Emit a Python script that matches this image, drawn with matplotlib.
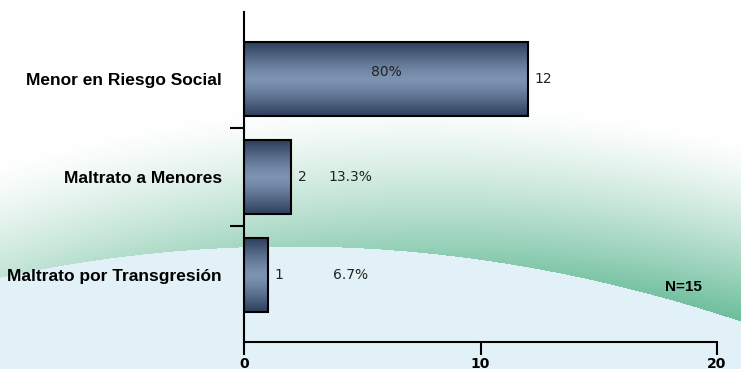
import numpy as np
import matplotlib
matplotlib.use('Agg')
import matplotlib.pyplot as plt

# data
categorias = ['Maltrato por Transgresión', 'Maltrato a Menores', 'Menor en Riesgo Social']
casos = [1, 2, 12]
porcentajes = ['6.7%', '13.3%', '80%']
total_n = 15
x_ticks = [0, 10, 20]

W, H = 741, 369
fig = plt.figure(figsize=(W/100, H/100), dpi=100)

# background: light blue hill with a green glow fading upward
xx, yy = np.meshgrid(np.arange(W), np.arange(H))
edge = 246 + 3.7e-4*(xx - 290)**2  # hill outline (pixel rows)
d = edge - yy
white = np.array([1.0, 1.0, 1.0])
green = np.array([100, 186, 150])/255.
blue = np.array([226, 241, 247])/255.
span = 115 + 65*xx/W
a = np.clip(1 - d/span, 0, 1)**1.3 * (0.4 + 0.55*xx/W)
img = white*(1 - a[..., None]) + green*a[..., None]
img[d < 0] = blue
ax_bg = fig.add_axes([0, 0, 1, 1], zorder=0)
ax_bg.imshow(img, aspect='auto', interpolation='bilinear')
ax_bg.axis('off')

ax = fig.add_axes([244/W, 1-342/H, (717-244)/W, 330/H], zorder=1)
ax.patch.set_alpha(0)
ypos = np.arange(len(categorias))
bars = ax.barh(ypos, casos, height=0.75, color='none', edgecolor='black', linewidth=1.5, zorder=3)
ax.set_xlim(0, 20)
ax.set_ylim(-0.684, 2.684)

# vertical gradient inside each bar
t = np.linspace(0, 1, 100)
g = np.abs(t - 0.5)*2
c_dark = np.array([44, 62, 92])/255.
c_light = np.array([124, 148, 178])/255.
grad = (c_light*(1 - g[:, None]**1.3) + c_dark*g[:, None]**1.3)[:, None, :]
for b in bars:
    x0, y0, w, h = b.get_x(), b.get_y(), b.get_width(), b.get_height()
    ax.imshow(grad, extent=[x0, x0 + w, y0, y0 + h], aspect='auto', zorder=2, interpolation='bilinear')

# labels
for i, b in enumerate(bars):
    yc = b.get_y() + b.get_height()/2
    ax.text(b.get_width() + 0.3, yc, str(casos[i]), va='center', ha='left', fontsize=10, family='DejaVu Sans', color='#222222')
    if casos[i] > 5:
        ax.text(b.get_width()/2, yc + 0.07, porcentajes[i], va='center', ha='center', fontsize=10, family='DejaVu Sans', color='#222222')
    else:
        ax.text(4.5, yc, porcentajes[i], va='center', ha='center', fontsize=10, family='DejaVu Sans', color='#222222')

ax.text(18.6, -0.12, 'N=%d' % total_n, ha='center', va='center', fontsize=11, fontweight='bold', family='Liberation Sans')

ax.set_yticks(ypos)
ax.set_yticklabels(categorias, fontsize=12.5, fontweight='bold', family='Liberation Sans')
ax.set_yticks([0.5, 1.5], minor=True)
ax.tick_params(axis='y', which='major', length=0, pad=16)
ax.tick_params(axis='y', which='minor', length=10, width=1.5, direction='out')
ax.set_xticks(x_ticks)
ax.set_xticklabels([str(v) for v in x_ticks], fontsize=10, fontweight='bold', family='DejaVu Sans')
ax.tick_params(axis='x', length=9.5, width=1.5, direction='out', pad=1.5)
for s in ['top', 'right']:
    ax.spines[s].set_visible(False)
for s in ['left', 'bottom']:
    ax.spines[s].set_linewidth(1.5)

fig.savefig('out.png', dpi=100)
